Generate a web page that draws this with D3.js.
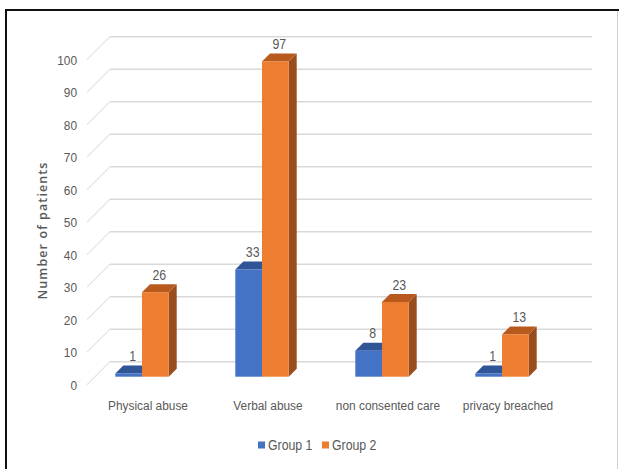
<!DOCTYPE html>
<html><head><meta charset="utf-8">
<script src="https://cdn.jsdelivr.net/npm/d3@7"></script>
<style>
html,body{margin:0;padding:0;background:#fff;}
svg{display:block;}
text{font-family:"Liberation Sans",Arial,sans-serif;fill:#595959;}
</style></head>
<body>
<svg id="c" width="619" height="469"></svg>
<script>
const categories = ["Physical abuse","Verbal abuse","non consented care","privacy breached"];
const seriesNames = ["Group 1","Group 2"];
const group1 = [1,33,8,1];
const group2 = [26,97,23,13];
const yTicks = [0,10,20,30,40,50,60,70,80,90,100];

const frontColors = ["#4472C4","#ED7D31"];
const topColors = ["#2F5597","#B85A1E"];
const sideColors = ["#2F528F","#9A4D1C"];

const svg = d3.select("#c");
const SX = 0.88;
function ctext(parent, x, y, anchor, size, str, fill){
  return parent.append("text")
    .attr("transform",`translate(${x},${y}) scale(${SX},1)`)
    .attr("text-anchor",anchor).attr("font-size",size)
    .attr("fill",fill||"#595959").text(str);
}
// frame
svg.append("line").attr("x1",5).attr("x2",619).attr("y1",10).attr("y2",10).attr("stroke","#111").attr("stroke-width",2.2);
svg.append("line").attr("x1",6).attr("x2",6).attr("y1",9).attr("y2",469).attr("stroke","#111").attr("stroke-width",2);
svg.append("line").attr("x1",617.5).attr("x2",617.5).attr("y1",11).attr("y2",469).attr("stroke","#d0d0d0").attr("stroke-width",1);

const y = d3.scaleLinear().domain([0,100]).range([376.7,51.7]);
const depth = 23;
const back = 15;
const x = d3.scaleBand().domain(categories).range([82,562]).padding(0);
const bw = 26.7, bd = 8;

// gridlines
const g = svg.append("g");
yTicks.forEach(t=>{
  const yb = y(t) - back;
  g.append("line").attr("x1",110).attr("x2",592).attr("y1",yb).attr("y2",yb)
    .attr("stroke","#d9d9d9").attr("stroke-width",1.5);
  g.append("line").attr("x1",87).attr("x2",110).attr("y1",yb+depth).attr("y2",yb)
    .attr("stroke","#e3e3e3").attr("stroke-width",1.2);
  ctext(g, 77, yb+depth+4.8, "end", 13.5, t);
});

// bars
const series = [group1, group2];
const bars = svg.append("g");
categories.forEach((c,ci)=>{
  series.forEach((vals,si)=>{
    const v = vals[ci];
    const x0 = x(c) + x.bandwidth()/2 - bw + si*bw;
    const x1 = x0 + bw;
    const yt = y(v), yb = y(0);
    bars.append("path").attr("d",`M${x1},${yb}L${x1+bd},${yb-bd}L${x1+bd},${yt-bd}L${x1},${yt}Z`).attr("fill",sideColors[si]);
    bars.append("path").attr("d",`M${x0},${yt}L${x0+bd},${yt-bd}L${x1+bd},${yt-bd}L${x1},${yt}Z`).attr("fill",topColors[si]);
    bars.append("rect").attr("x",x0).attr("y",yt).attr("width",bw).attr("height",yb-yt).attr("fill",frontColors[si]);
    ctext(bars, (x0+x1)/2+4, yt-12.3, "middle", 14, v, "#404040");
  });
  ctext(svg, x(c)+x.bandwidth()/2+6, 410, "middle", 13.5, c);
});

// y title
svg.append("text").attr("transform","translate(47,230.5) rotate(-90)").attr("text-anchor","middle")
  .style("font-family","'Open Sans','Noto Sans',sans-serif").attr("font-size",12.5).attr("font-weight",600)
  .attr("letter-spacing",1.1).text("Number of patients");

// legend
const leg = svg.append("g");
const legX = [258,322];
seriesNames.forEach((n,i)=>{
  leg.append("rect").attr("x",legX[i]).attr("y",441.5).attr("width",7).attr("height",7).attr("fill",frontColors[i]);
  ctext(leg, legX[i]+10, 450, "start", 14, n);
});
</script>
</body></html>
